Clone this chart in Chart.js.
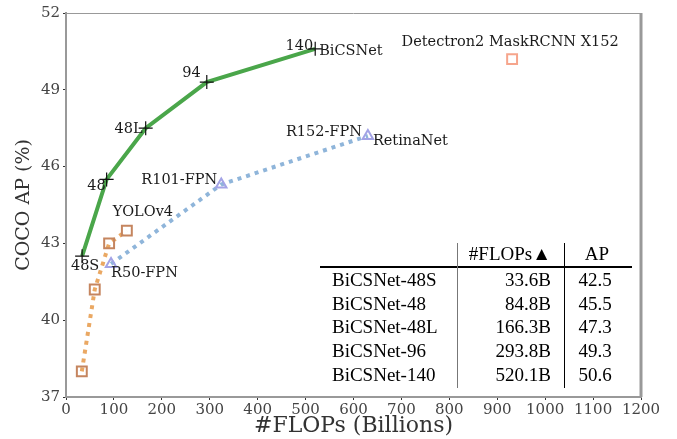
<!DOCTYPE html>
<html>
<head>
<meta charset="utf-8">
<script src="https://cdn.jsdelivr.net/npm/chart.js@4/dist/chart.umd.min.js"></script>
<style>
  html, body { margin: 0; padding: 0; background: #fff; }
  #wrap { width: 677px; height: 439px; }
</style>
</head>
<body>
<div id="wrap"><canvas id="chart" width="677" height="439"></canvas></div>
<script>
// BiCSNet curve (FLOPs in billions, AP)
const bicsFlops = [33.6, 84.8, 166.3, 293.8, 520.1];
const bicsAP = [42.5, 45.5, 47.5, 49.3, 50.6];
const bicsLabels = ["48S", "48", "48L", "94", "140"];

// YOLOv4 family
const yoloFlops = [33, 60, 90, 127];
const yoloAP = [38.0, 41.2, 43.0, 43.5];

// RetinaNet family
const retinaFlops = [94, 324, 630];
const retinaAP = [42.2, 45.3, 47.2];
const retinaLabels = ["R50-FPN", "R101-FPN", "R152-FPN"];

// Detectron2 single point
const detFlops = [931];
const detAP = [50.2];

// axis ticks
const xTicks = [0, 100, 200, 300, 400, 500, 600, 700, 800, 900, 1000, 1100, 1200];
const yTicks = [37, 40, 43, 46, 49, 52];

// inset table
const tableHeader = ["", "#FLOPs\u25B2", "AP"];
const tableNames = ["BiCSNet-48S", "BiCSNet-48", "BiCSNet-48L", "BiCSNet-96", "BiCSNet-140"];
const tableFlops = ["33.6B", "84.8B", "166.3B", "293.8B", "520.1B"];
const tableAP = ["42.5", "45.5", "47.3", "49.3", "50.6"];

const toXY = (xs, ys) => xs.map((x, i) => ({ x: x, y: ys[i] }));

const serif = "'DejaVu Serif', serif";

// text annotations next to points: [datasetIndex, pointIndex, text, dx, dy, align]
const notes = [
  [0, 0, bicsLabels[0], 3, 10, "center"],
  [0, 1, bicsLabels[1], -1, 7, "right"],
  [0, 2, bicsLabels[2], -3, 1, "right"],
  [0, 3, bicsLabels[3], -6, -9, "right"],
  [0, 4, bicsLabels[4], -2, -3, "right"],
  [0, 4, "BiCSNet", 4, 2, "left"],
  [1, 3, "YOLOv4", 16, -18, "center"],
  [2, 0, retinaLabels[0], 0, 9, "left"],
  [2, 1, retinaLabels[1], -4, -4, "right"],
  [2, 2, retinaLabels[2], -6, -4, "right"],
  [2, 2, "RetinaNet", 5, 5, "left"],
  [3, 0, "Detectron2 MaskRCNN X152", -2, -17, "center"],
];

const annotatePlugin = {
  id: "annotate",
  afterDatasetsDraw(chart) {
    const ctx = chart.ctx;
    ctx.save();
    ctx.font = "14.5px " + serif;
    ctx.fillStyle = "#1a1a1a";
    ctx.textBaseline = "middle";
    notes.forEach(([di, pi, text, dx, dy, align]) => {
      const el = chart.getDatasetMeta(di).data[pi];
      ctx.textAlign = align;
      ctx.fillText(text, el.x + dx, el.y + dy);
    });
    ctx.restore();
  },
};

const framePlugin = {
  id: "frame",
  afterDraw(chart) {
    const a = chart.chartArea;
    const ctx = chart.ctx;
    ctx.save();
    ctx.strokeStyle = "#999";
    ctx.lineWidth = 1;
    ctx.beginPath();
    ctx.moveTo(a.left, a.top + 0.5);
    ctx.lineTo(a.right, a.top + 0.5);
    ctx.stroke();
    ctx.lineWidth = 3;
    ctx.beginPath();
    ctx.moveTo(a.right, a.top);
    ctx.lineTo(a.right, a.bottom);
    ctx.stroke();

    // inset table
    ctx.font = "19px 'Liberation Serif', 'Times New Roman', serif";
    ctx.fillStyle = "#000";
    ctx.textBaseline = "middle";
    const headY = 255;
    const rowY0 = 281;
    const rowH = 23.7;
    ctx.textAlign = "right";
    ctx.fillText(tableHeader[1], 551, headY);
    ctx.textAlign = "center";
    ctx.fillText(tableHeader[2], 597, headY);
    tableNames.forEach((name, i) => {
      const y = rowY0 + i * rowH;
      ctx.textAlign = "left";
      ctx.fillText(name, 332, y);
      ctx.textAlign = "right";
      ctx.fillText(tableFlops[i], 551, y);
      ctx.textAlign = "center";
      ctx.fillText(tableAP[i], 595, y);
    });
    ctx.strokeStyle = "#000";
    ctx.lineWidth = 2;
    ctx.beginPath();
    ctx.moveTo(320, 267);
    ctx.lineTo(632, 267);
    ctx.stroke();
    ctx.lineWidth = 1;
    ctx.strokeStyle = "#777";
    ctx.beginPath();
    ctx.moveTo(457.5, 243);
    ctx.lineTo(457.5, 388);
    ctx.stroke();
    ctx.strokeStyle = "#000";
    ctx.beginPath();
    ctx.moveTo(564.5, 243);
    ctx.lineTo(564.5, 388);
    ctx.stroke();
    ctx.restore();
  },
};

const ctx = document.getElementById("chart").getContext("2d");

new Chart(ctx, {
  type: "scatter",
  data: {
    datasets: [
      {
        label: "BiCSNet",
        data: toXY(bicsFlops, bicsAP),
        showLine: true,
        borderColor: "#4aa64a",
        borderWidth: 4,
        pointStyle: "cross",
        pointRadius: 7,
        pointBorderColor: "#111",
        pointBorderWidth: 1.2,
        pointBackgroundColor: "#111",
        order: 1,
      },
      {
        label: "YOLOv4",
        data: toXY(yoloFlops, yoloAP),
        showLine: true,
        borderColor: "#eaa863",
        borderWidth: 4,
        borderDash: [4, 5],
        pointStyle: "rect",
        pointRadius: 7,
        pointBorderColor: "#c5855f",
        pointBorderWidth: 2,
        pointBackgroundColor: "rgba(0,0,0,0)",
        order: 3,
      },
      {
        label: "RetinaNet",
        data: toXY(retinaFlops, retinaAP),
        showLine: true,
        borderColor: "#8fb5da",
        borderWidth: 4,
        borderDash: [4, 5],
        pointStyle: "triangle",
        pointRadius: 6,
        pointBorderColor: "#a3a3e6",
        pointBorderWidth: 2,
        pointBackgroundColor: "rgba(0,0,0,0)",
        order: 2,
      },
      {
        label: "Detectron2",
        data: toXY(detFlops, detAP),
        showLine: false,
        pointStyle: "rect",
        pointRadius: 7,
        pointBorderColor: "#f6a58c",
        pointBorderWidth: 2,
        pointBackgroundColor: "rgba(0,0,0,0)",
        order: 4,
      },
    ],
  },
  options: {
    responsive: false,
    animation: false,
    layout: { padding: { top: 13, right: 36, left: 0, bottom: 0 } },
    plugins: {
      legend: { display: false },
      tooltip: { enabled: false },
    },
    scales: {
      x: {
        type: "linear",
        min: 0,
        max: 1200,
        afterFit: (scale) => { scale.height = 42; },
        afterBuildTicks: (scale) => { scale.ticks = xTicks.map((v) => ({ value: v })); },
        border: { display: true, color: "#999", width: 2 },
        grid: { drawOnChartArea: false, drawTicks: true, tickLength: 3, color: "#333" },
        ticks: {
          color: "#444",
          padding: 1,
          maxRotation: 0,
          autoSkip: false,
          font: { family: serif, size: 15 },
          callback: (value) => String(value),
        },
        title: {
          display: true,
          text: "#FLOPs (Billions)",
          color: "#333",
          padding: { top: -4, bottom: 0 },
          font: { family: serif, size: 22 },
        },
      },
      y: {
        type: "linear",
        min: 37,
        max: 52,
        afterFit: (scale) => { scale.width = 66; },
        afterBuildTicks: (scale) => { scale.ticks = yTicks.map((v) => ({ value: v })); },
        border: { display: true, color: "#999", width: 2 },
        grid: { drawOnChartArea: false, drawTicks: true, tickLength: 3, color: "#333" },
        ticks: {
          color: "#444",
          padding: 3,
          font: { family: serif, size: 15 },
          callback: (value) => String(value),
        },
        title: {
          display: true,
          text: "COCO AP (%)",
          color: "#333",
          padding: { top: 13, bottom: 0 },
          font: { family: serif, size: 19 },
        },
      },
    },
  },
  plugins: [annotatePlugin, framePlugin],
});
</script>
</body>
</html>
